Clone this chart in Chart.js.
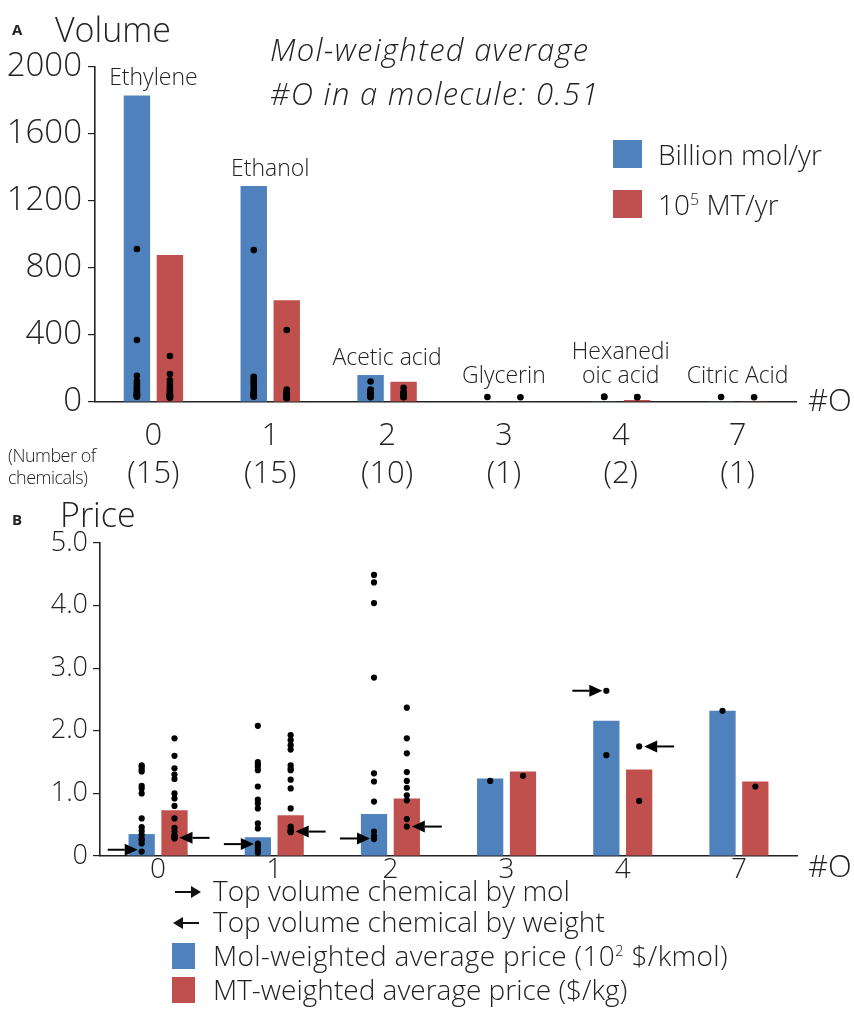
<!DOCTYPE html>
<html><head><meta charset="utf-8">
<script src="https://cdn.jsdelivr.net/npm/chart.js@4.4.1/dist/chart.umd.min.js"></script>
<style>
html,body{margin:0;padding:0;background:#fff}
body{width:854px;height:1033px;position:relative;overflow:hidden;font-family:'Open Sans',sans-serif;color:#222}
.t{position:absolute;white-space:nowrap;line-height:1;font-weight:300}
.sq{position:absolute}
.arr{position:absolute;height:2px;background:#111}
.arr:after{content:'';position:absolute;top:-5px;border-top:6px solid transparent;border-bottom:6px solid transparent}
.ar:after{right:-2px;border-left:10px solid #111}
.al:after{left:-2px;border-right:10px solid #111}
canvas{position:absolute;left:0}
</style></head><body>
<canvas id="cA" width="854" height="490" style="top:0;width:854px;height:490px"></canvas>
<canvas id="cB" width="854" height="543" style="top:490px;width:854px;height:543px"></canvas>

<div class="t" style="left:12px;top:22px;font-size:15px;font-weight:700">A</div>
<div class="t" style="left:55px;top:12px;font-size:34px">Volume</div>
<div class="t" style="left:270px;top:34px;font-size:31px;font-style:italic;letter-spacing:1.3px">Mol-weighted average</div>
<div class="t" style="left:270px;top:78px;font-size:31px;font-style:italic;letter-spacing:1.3px">#O in a molecule: 0.51</div>
<div class="sq" style="left:613px;top:140px;width:29px;height:28px;background:#4F81BD"></div>
<div class="t" style="left:658px;top:140px;font-size:28px">Billion mol/yr</div>
<div class="sq" style="left:613px;top:190px;width:29px;height:28px;background:#C0504D"></div>
<div class="t" style="left:658px;top:190px;font-size:28px">10<sup style="font-size:16px">5</sup> MT/yr</div>
<div class="t" style="left:808px;top:384px;font-size:31px">#O</div>
<div class="t" style="left:8px;top:446px;font-size:18px;letter-spacing:-0.5px">(Number of</div>
<div class="t" style="left:8px;top:468px;font-size:18px;letter-spacing:-0.5px">chemicals)</div>

<div class="t" style="left:12px;top:512px;font-size:15px;font-weight:700">B</div>
<div class="t" style="left:60px;top:497px;font-size:34px">Price</div>
<div class="t" style="left:808px;top:850px;font-size:31px">#O</div>

<div class="arr ar" style="left:175px;top:891px;width:24px"></div>
<div class="t" style="left:213px;top:876px;font-size:28px">Top volume chemical by mol</div>
<div class="arr al" style="left:175px;top:922px;width:24px"></div>
<div class="t" style="left:213px;top:907px;font-size:28px">Top volume chemical by weight</div>
<div class="sq" style="left:172px;top:943px;width:23px;height:26px;background:#4F81BD"></div>
<div class="t" style="left:213px;top:941px;font-size:28px;letter-spacing:0.3px">Mol-weighted average price (10<sup style="font-size:15px">2</sup> $/kmol)</div>
<div class="sq" style="left:172px;top:977px;width:23px;height:26px;background:#C0504D"></div>
<div class="t" style="left:213px;top:975px;font-size:28px">MT-weighted average price ($/kg)</div>

<script>
// ---------- data ----------
const categories = ['0', '1', '2', '3', '4', '7'];
const chemicalCounts = [15, 15, 10, 1, 2, 1];
const chemicalNames = ['Ethylene', 'Ethanol', 'Acetic acid', 'Glycerin', ['Hexanedi', 'oic acid'], 'Citric Acid'];

const volumeMol = [1830, 1290, 161, 3, 5, 2];
const volumeWeight = [878, 607, 121, 3, 12, 2];
const volumeMolDots = [
  [913, 370, 157, 125, 110, 95, 85, 75, 65, 55, 50, 45, 40, 35, 32],
  [907, 150, 135, 121, 110, 97, 80, 62, 55, 48, 42, 40, 38, 35, 32],
  [122, 75, 65, 55, 50, 45, 40, 35, 30, 28],
  [30],
  [32, 30],
  [30]
];
const volumeWeightDots = [
  [275, 167, 130, 110, 95, 80, 70, 60, 50, 45, 40, 35, 30, 28, 25],
  [430, 75, 65, 58, 52, 47, 42, 38, 35, 32, 30, 28, 26, 24, 22],
  [85, 60, 55, 50, 45, 40, 35, 32, 30, 28],
  [28],
  [30, 28],
  [28]
];

const priceMol = [0.35, 0.30, 0.67, 1.24, 2.16, 2.32];
const priceWeight = [0.73, 0.65, 0.92, 1.35, 1.38, 1.19];
const priceMolDots = [
  [1.45, 1.42, 1.38, 1.35, 1.12, 1.08, 1.00, 0.60, 0.46, 0.40, 0.34, 0.28, 0.25, 0.20, 0.07],
  [2.08, 1.50, 1.46, 1.42, 1.37, 1.11, 0.90, 0.84, 0.76, 0.52, 0.44, 0.20, 0.15, 0.10, 0.05],
  [4.49, 4.37, 4.04, 2.85, 1.32, 1.19, 0.87, 0.39, 0.32, 0.27],
  [1.20],
  [2.64, 1.61],
  [2.32]
];
const priceWeightDots = [
  [1.88, 1.60, 1.40, 1.30, 1.23, 1.00, 0.92, 0.80, 0.60, 0.45, 0.39, 0.33, 0.31, 0.29, 0.28],
  [1.93, 1.85, 1.77, 1.70, 1.45, 1.40, 1.37, 1.22, 1.08, 0.76, 0.47, 0.43, 0.40, 0.39, 0.38],
  [2.37, 1.88, 1.64, 1.34, 1.20, 1.09, 0.97, 0.89, 0.59, 0.47],
  [1.28],
  [1.75, 0.88],
  [1.11]
];
const topMolPrice = [0.10, 0.19, 0.28, null, 2.64, null];
const topWeightPrice = [0.29, 0.39, 0.47, null, 1.75, null];

const volumeTicks = [0, 400, 800, 1200, 1600, 2000];
const priceTicks = [0, 1, 2, 3, 4, 5];

// ---------- style ----------
const BLUE = '#4F81BD', RED = '#C0504D', INK = '#222';
const FONT = "'Open Sans', sans-serif";
const GROUP_PCT = 0.565;          // share of a category used by the pair of bars
const DOT_OFF = GROUP_PCT / 4;    // centre of each bar relative to the category centre

Chart.defaults.font.family = FONT;
Chart.defaults.color = INK;

function dotSeries(groups, side) {
  const out = [];
  groups.forEach((g, i) => g.forEach(v => out.push({ x: i + side * DOT_OFF, y: v })));
  return out;
}
function barSeries(values, side) {
  return values.map((v, i) => ({ x: i + side * DOT_OFF, y: v }));
}

function baseOptions(padTop, padRight, yWidth, xHeight, yMax, yTickList, yFontSize, yPad, yFmt, xFontSize, xLineH, xPad, xCallback) {
  return {
    responsive: false,
    animation: false,
    events: [],
    layout: { padding: { top: padTop, right: padRight, left: 0, bottom: 0 } },
    plugins: { legend: { display: false }, tooltip: { enabled: false } },
    scales: {
      x: {
        type: 'category',
        offset: true,
        grid: { display: false },
        border: { display: true, color: INK, width: 1.6 },
        ticks: { font: { size: xFontSize, weight: '300', lineHeight: xLineH }, color: INK, padding: xPad, maxRotation: 0, autoSkip: false, callback: xCallback },
        afterFit: s => { s.height = xHeight; }
      },
      xd: { type: 'linear', display: false, min: -0.5, max: 5.5, offset: false },
      y: {
        min: 0, max: yMax,
        afterBuildTicks: s => { s.ticks = yTickList.map(v => ({ value: v })); },
        grid: { display: true, drawOnChartArea: false, drawTicks: true, tickLength: 7, color: INK, lineWidth: 1.2 },
        border: { display: true, color: INK, width: 1.6 },
        ticks: { font: { size: yFontSize, weight: '300' }, color: INK, padding: yPad, callback: yFmt },
        afterFit: s => { s.width = yWidth; }
      }
    }
  };
}

function datasets(molBars, wtBars, molDots, wtDots, r) {
  const bar = { type: 'bar', xAxisID: 'xd', grouped: false, categoryPercentage: 1, barPercentage: 0.8, order: 2 };
  const dot = { type: 'scatter', xAxisID: 'xd', pointRadius: r, pointBackgroundColor: '#000', pointBorderWidth: 0, order: 0 };
  return [
    Object.assign({ label: 'mol', data: barSeries(molBars, -1), backgroundColor: BLUE }, bar),
    Object.assign({ label: 'wt', data: barSeries(wtBars, 1), backgroundColor: RED }, bar),
    Object.assign({ label: 'mol chemicals', data: dotSeries(molDots, -1) }, dot),
    Object.assign({ label: 'wt chemicals', data: dotSeries(wtDots, 1) }, dot)
  ];
}

// bar name labels (panel A)
const barLabelPlugin = {
  id: 'barLabels',
  afterDatasetsDraw(chart) {
    const { ctx, scales: { x, y } } = chart;
    ctx.save();
    ctx.font = "300 23px " + FONT;
    ctx.fillStyle = INK;
    ctx.textAlign = 'center';
    ctx.textBaseline = 'alphabetic';
    chemicalNames.forEach((name, i) => {
      const cx = x.getPixelForValue(i);
      const base = Math.min(y.getPixelForValue(Math.max(volumeMol[i], volumeWeight[i])) - 10, y.getPixelForValue(0) - 19);
      const lines = Array.isArray(name) ? name : [name];
      lines.forEach((ln, k) => ctx.fillText(ln, cx, base - (lines.length - 1 - k) * 24));
    });
    ctx.restore();
  }
};

// arrows (panel B)
function drawArrow(ctx, tipX, yy, dir) {
  const head = 13, half = 6, len = 30;
  ctx.beginPath();
  ctx.moveTo(tipX - dir * len, yy);
  ctx.lineTo(tipX - dir * head, yy);
  ctx.stroke();
  ctx.beginPath();
  ctx.moveTo(tipX, yy);
  ctx.lineTo(tipX - dir * head, yy - half);
  ctx.lineTo(tipX - dir * head, yy + half);
  ctx.closePath();
  ctx.fill();
}
const arrowPlugin = {
  id: 'arrows',
  afterDatasetsDraw(chart) {
    const { ctx, scales: { xd, y } } = chart;
    ctx.save();
    ctx.fillStyle = '#000';
    ctx.strokeStyle = '#000';
    ctx.lineWidth = 2;
    topMolPrice.forEach((v, i) => {
      if (v === null) return;
      drawArrow(ctx, xd.getPixelForValue(i - DOT_OFF) - 4, y.getPixelForValue(v), 1);
    });
    topWeightPrice.forEach((v, i) => {
      if (v === null) return;
      drawArrow(ctx, xd.getPixelForValue(i + DOT_OFF) + 5, y.getPixelForValue(v), -1);
    });
    ctx.restore();
  }
};

// ---------- panel A ----------
new Chart(document.getElementById('cA'), {
  data: { labels: categories, datasets: datasets(volumeMol, volumeWeight, volumeMolDots, volumeWeightDots, 3.3) },
  options: baseOptions(67, 58, 95, 88, 2000, volumeTicks, 33, 6, v => String(v), 31, 1.2, 8,
    (val, idx) => [categories[idx], '(' + chemicalCounts[idx] + ')']),
  plugins: [barLabelPlugin]
});

// ---------- panel B ----------
new Chart(document.getElementById('cB'), {
  data: { labels: categories, datasets: datasets(priceMol, priceWeight, priceMolDots, priceWeightDots, 3.1) },
  options: baseOptions(53, 57, 100, 177, 5, priceTicks, 27, 5, v => v === 0 ? '0' : v.toFixed(1), 28, 1, -8,
    (val, idx) => categories[idx]),
  plugins: [arrowPlugin]
});
</script>
</body></html>
